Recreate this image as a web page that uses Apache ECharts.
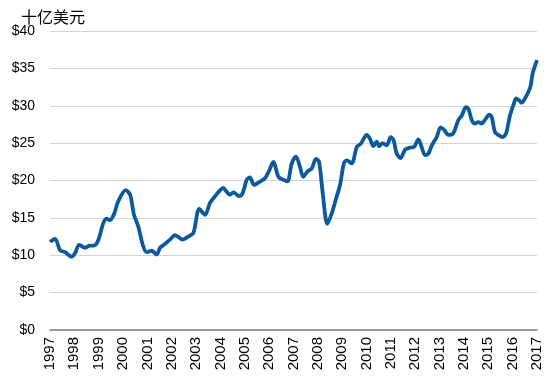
<!DOCTYPE html>
<html>
<head>
<meta charset="utf-8">
<script src="https://cdn.jsdelivr.net/npm/echarts@6/dist/echarts.min.js"></script>
<style>
html,body{margin:0;padding:0;background:#fff;}
#chart{width:550px;height:383px;}
</style>
</head>
<body>
<div id="chart"></div>
<script>
var unitTitle = '十亿美元';
var yearTicks = [1997,1998,1999,2000,2001,2002,2003,2004,2005,2006,2007,2008,2009,2010,2011,2012,2013,2014,2015,2016,2017];
var dates = [1997.00,1997.21,1997.41,1997.62,1997.89,1998.03,1998.20,1998.44,1998.64,1998.81,1998.98,1999.19,1999.33,1999.46,1999.63,1999.80,2000.11,2000.29,2000.45,2000.63,2000.81,2000.97,2001.18,2001.38,2001.52,2001.72,2001.96,2002.13,2002.45,2002.68,2002.89,2003.13,2003.37,2003.57,2003.78,2004.12,2004.23,2004.39,2004.53,2004.77,2004.91,2005.08,2005.21,2005.38,2005.60,2005.83,2006.01,2006.17,2006.38,2006.58,2006.75,2006.93,2007.10,2007.27,2007.40,2007.57,2007.75,2007.92,2008.05,2008.20,2008.39,2008.57,2008.75,2008.91,2009.07,2009.18,2009.39,2009.60,2009.76,2010.01,2010.14,2010.28,2010.42,2010.52,2010.66,2010.83,2010.99,2011.10,2011.24,2011.40,2011.58,2011.78,2011.95,2012.13,2012.26,2012.40,2012.54,2012.68,2012.88,2013.04,2013.18,2013.36,2013.56,2013.77,2013.91,2014.08,2014.18,2014.32,2014.45,2014.59,2014.73,2014.86,2015.04,2015.14,2015.27,2015.41,2015.59,2015.73,2015.89,2016.06,2016.14,2016.27,2016.37,2016.51,2016.64,2016.74,2016.82,2017.00];
var values = [11.8,12.2,10.7,10.4,9.8,10.3,11.4,11.0,11.3,11.3,12.0,14.3,14.9,14.7,15.5,17.2,18.7,18.1,15.4,13.8,11.4,10.4,10.6,10.1,11.0,11.5,12.2,12.7,12.1,12.5,13.0,16.2,15.4,17.0,17.9,19.0,18.6,18.1,18.4,17.9,18.3,20.1,20.4,19.4,19.8,20.3,21.4,22.5,20.5,20.1,19.9,22.3,23.2,21.8,20.5,21.2,21.6,22.9,22.5,18.3,14.2,15.6,17.6,19.4,22.3,22.7,22.3,24.5,24.9,26.1,25.6,24.6,25.2,24.6,25.0,24.7,25.8,25.5,23.6,23.0,24.1,24.4,24.5,25.5,24.5,23.4,23.6,24.7,25.8,27.1,26.8,26.1,26.3,28.1,28.7,29.8,29.6,28.1,27.6,27.8,27.6,28.1,28.8,28.5,26.5,26.1,25.8,26.3,28.7,30.4,31.0,30.7,30.4,31.0,31.8,32.7,34.3,36.1];

var seriesData = dates.map(function(d, i){ return [d, values[i]]; });
var font = '"Liberation Sans", Arial, sans-serif';

var chart = echarts.init(document.getElementById('chart'));
chart.setOption({
  animation: false,
  title: {
    text: unitTitle,
    left: 16, top: 4,
    textStyle: {fontFamily: '"Noto Sans CJK SC", sans-serif', fontSize: 16, fontWeight: 'normal', color: '#000'}
  },
  grid: {left: 50, right: 13, top: 31, bottom: 53, containLabel: false},
  xAxis: {
    type: 'value',
    min: yearTicks[0], max: yearTicks[yearTicks.length-1], interval: 1,
    axisLine: {show: true, lineStyle: {color: '#7f7f7f', width: 1.5}},
    axisTick: {show: false},
    splitLine: {show: false},
    axisLabel: {
      rotate: 90, margin: 7, color: '#000',
      fontFamily: font, fontSize: 15,
      formatter: function(v){ return String(Math.round(v)); }
    }
  },
  yAxis: {
    type: 'value', min: 0, max: 40, interval: 5,
    axisLine: {show: false},
    axisTick: {show: false},
    splitLine: {show: true, lineStyle: {color: '#d4d4d4', width: 1.2}},
    axisLabel: {
      margin: 15, color: '#000', fontFamily: font, fontSize: 14,
      formatter: function(v){ return '$' + v; }
    }
  },
  series: [{
    type: 'line',
    data: seriesData,
    showSymbol: false,
    smooth: 0.3,
    lineStyle: {color: '#0c5a9c', width: 3.8},
    itemStyle: {color: '#0c5a9c'}
  }]
});
</script>
</body>
</html>
